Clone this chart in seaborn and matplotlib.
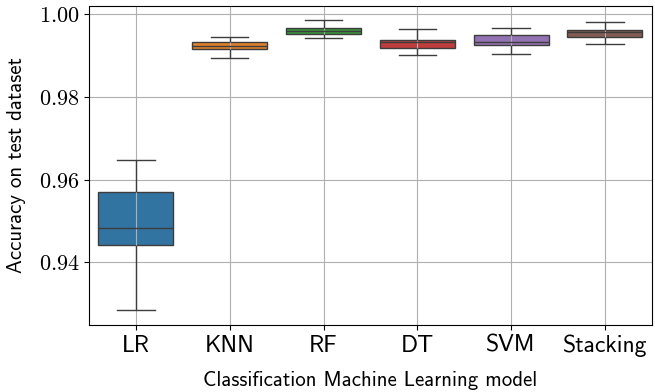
import numpy as np
import pandas as pd
import seaborn as sns
import matplotlib.pyplot as plt
from matplotlib.ticker import FuncFormatter

# box statistics: low whisker, Q1, median, Q3, high whisker
models = ['LR', 'KNN', 'RF', 'DT', 'SVM', 'Stacking']
lr = [0.9284, 0.9441, 0.9482, 0.9569, 0.9648]
knn = [0.9893, 0.9914, 0.9922, 0.9931, 0.9945]
rf = [0.9941, 0.9951, 0.9958, 0.9965, 0.9984]
dt = [0.9901, 0.9918, 0.9931, 0.9937, 0.9964]
svm = [0.9904, 0.9925, 0.9932, 0.9949, 0.9965]
stacking = [0.9928, 0.9944, 0.9955, 0.9961, 0.9981]

scores = [lr, knn, rf, dt, svm, stacking]
df = pd.DataFrame({
    'model': np.repeat(models, [len(s) for s in scores]),
    'acc': np.concatenate(scores),
})

plt.rcParams['mathtext.fontset'] = 'cm'

fig, ax = plt.subplots(figsize=(6.55, 3.92), dpi=100)
sns.boxplot(data=df, x='model', y='acc', hue='model', palette='tab10',
            legend=False, ax=ax, boxprops={'zorder': 1})
ax.grid(True, color='#b0b0b0', linewidth=0.8)

ax.yaxis.set_major_formatter(FuncFormatter(lambda v, p: '$%.2f$' % v))
ax.set_yticks([0.94, 0.96, 0.98, 1.00])
for t in ax.get_yticklabels():
    t.set_fontsize(16)
for t in ax.get_xticklabels():
    t.set_fontfamily('cmss10')
    t.set_fontsize(17)

ax.set_xlabel('Classification Machine Learning model', fontfamily='cmss10',
              fontsize=15, labelpad=10)
ax.set_ylabel('Accuracy on test dataset', fontfamily='cmss10',
              fontsize=15, labelpad=9)

fig.subplots_adjust(left=0.136, right=0.995, top=0.985, bottom=0.171)
fig.savefig('out.png', dpi=100)
